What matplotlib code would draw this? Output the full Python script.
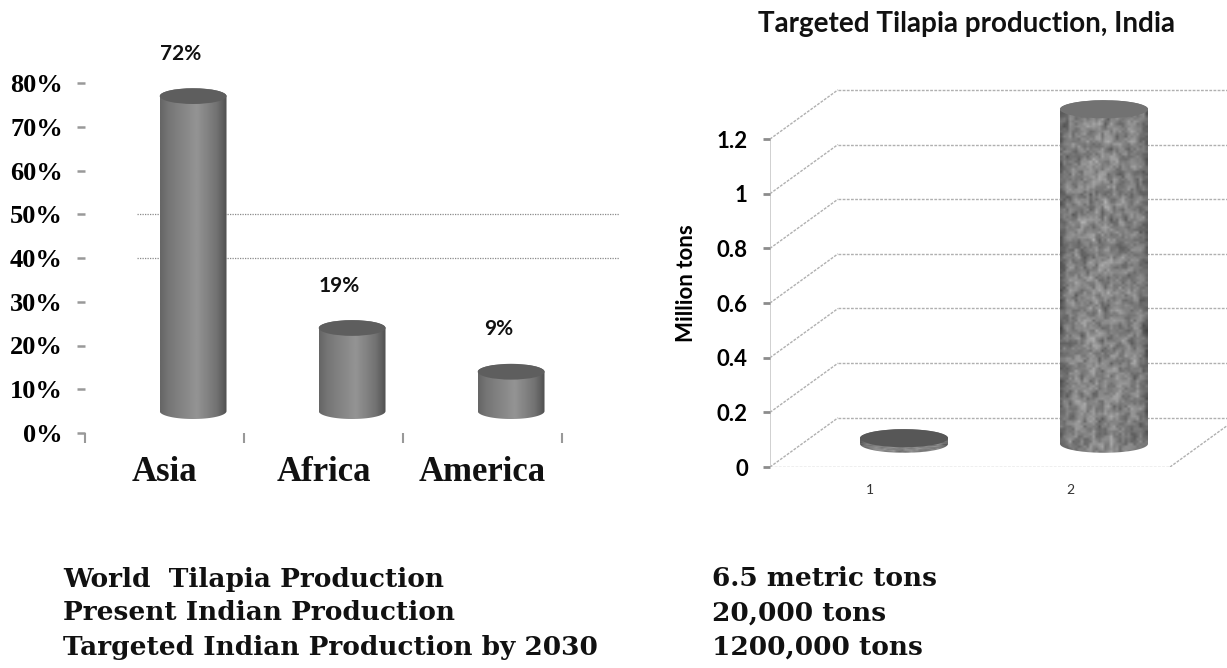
import numpy as np
import matplotlib.pyplot as plt
from matplotlib.patches import Ellipse, Polygon

# ---- data ----
regions = ["Asia", "Africa", "America"]
shares = [72, 19, 9]
share_labels = ["72%", "19%", "9%"]
pct_ticks = [0, 10, 20, 30, 40, 50, 60, 70, 80]
pct_grid = [40, 50]

india_cats = [1, 2]
india_cat_labels = ["1", "2"]
india_mt = [0.02, 1.2]
mt_ticks = [0, 0.2, 0.4, 0.6, 0.8, 1.0, 1.2]
mt_tick_labels = ["0", "0.2", "0.4", "0.6", "0.8", "1", "1.2"]

facts = ["World  Tilapia Production", "Present Indian Production",
         "Targeted Indian Production by 2030"]
fact_values = ["6.5 metric tons", "20,000 tons", "1200,000 tons"]

W, H = 1227, 668
fig = plt.figure(figsize=(W / 100, H / 100), dpi=100)
fig.patch.set_facecolor("white")


def box(x0, y0, x1, y1):
    # pixel box (origin top-left) -> figure fraction
    return [x0 / W, 1 - y1 / H, (x1 - x0) / W, (y1 - y0) / H]


def cylinder(ax, cx, y0, y1, hw, eh, img, cmap, top_color, z=3):
    t1 = np.linspace(np.pi, 2 * np.pi, 60)
    t2 = np.linspace(0, np.pi, 60)
    xs = np.r_[cx + hw * np.cos(t1), cx + hw * np.cos(t2)]
    ys = np.r_[y0 + eh * np.sin(t1), y1 + eh * np.sin(t2)]
    body = Polygon(np.c_[xs, ys], closed=True, fc="none", ec="none")
    ax.add_patch(body)
    im = ax.imshow(img, extent=[cx - hw, cx + hw, y0 - eh, y1 + eh],
                   aspect="auto", cmap=cmap, vmin=0, vmax=1,
                   interpolation="bilinear", zorder=z, origin="lower")
    im.set_clip_path(body)
    ax.add_patch(Ellipse((cx, y1), 2 * hw, 2 * eh, fc=top_color,
                         ec="none", zorder=z + 1))


# ---- left chart: world share ----
ax = fig.add_axes(box(85, 83, 85 + 3.5 * 159, 433))
ax.patch.set_visible(False)
for s in ax.spines.values():
    s.set_visible(False)

u = np.linspace(0, 1, 64)
grad = np.interp(u, [0, 0.12, 0.55, 0.85, 1], [0.40, 0.46, 0.58, 0.45, 0.32])[None, :]
dx_l, dy_l = 0.18, 5.0
for i, v in enumerate(shares):
    cylinder(ax, i + dx_l, dy_l, v + dy_l, 0.21, 1.8, grad, "gray", "#5e5e5e")
    ax.text(i + 0.1, v + 14.7, share_labels[i], ha="center", va="center",
            fontsize=15, fontweight="bold", family="Lato", color="#111")
    ax.text(i, -9, regions[i], ha="center", va="center", fontsize=25,
            fontweight="bold", family="Liberation Serif", color="#111")

for g in pct_grid:
    ax.plot([-0.17, 2.86], [g, g], color="#8a8a8a", lw=0.9,
            ls=(0, (1, 1)), zorder=1)

ax.set_yticks(pct_ticks)
ax.set_yticklabels([f"{t}%" for t in pct_ticks], family="Liberation Serif",
                   fontsize=19, fontweight="bold")
ax.set_xticks([-0.5, 0.5, 1.5, 2.5])
ax.set_xticklabels([])
ax.tick_params(axis="y", length=6, width=1.8, color="#999999", pad=10)
ax.tick_params(axis="x", length=7, width=1.5, color="#999999")
ax.set_xlim(-0.5, 3.0)
ax.set_ylim(0, 80)

# ---- right chart: India targets ----
ax2 = fig.add_axes(box(770, 467 - 1.4 * 273.3, 1227, 467))
ax2.patch.set_visible(False)
for s in ax2.spines.values():
    s.set_visible(False)

dx, dy = 0.34, 0.18
xmax = 0.5 + 457 / 200
grid_kw = dict(color="#b0b0b0", lw=1.0, ls=(0, (2, 1)), zorder=1)
for t in mt_ticks:
    ax2.plot([0.5, 0.5 + dx], [t, t + dy], **grid_kw)
    ax2.plot([0.5 + dx, xmax], [t + dy, t + dy], **grid_kw)
ax2.plot([0.5, 2.5], [0, 0], **grid_kw)
ax2.plot([2.5, 2.5 + dx], [0, dy], **grid_kw)
ax2.plot([0.5, 0.5], [0, mt_ticks[-1]], color="#c8c8c8", lw=1.2, zorder=1)

# mottled texture (deterministic hash pattern, only for the fill look)
r, c = np.mgrid[0:140, 0:30]
h = np.sin(r * 12.9898 + c * 78.233) * 43758.5453
n = h - np.floor(h)
n = (n + np.roll(n, 1, 0) + np.roll(n, 1, 1) + np.roll(n, -1, 0)) / 4
edge = np.interp(np.linspace(0, 1, 30), [0, 0.1, 0.5, 0.9, 1], [0.8, 1, 1.05, 1, 0.8])
tex = np.clip((0.30 + 0.40 * n) * edge[None, :], 0, 1)

for k, v in zip(india_cats, india_mt):
    cylinder(ax2, k + 0.17, 0.085, v * 1.02 + 0.085, 0.22, 0.033, tex, "gray",
             "#727272" if v > 0.1 else "#575757")

ax2.set_yticks(mt_ticks)
ax2.set_yticklabels(mt_tick_labels, family="Lato", fontsize=16,
                    fontweight="bold")
ax2.set_xticks(india_cats)
ax2.set_xticklabels(india_cat_labels, family="Lato", fontsize=10, color="#333")
ax2.tick_params(axis="y", length=5, width=2, color="#8c8c8c", pad=11)
ax2.tick_params(axis="x", length=0, pad=12)
ax2.set_ylabel("Million tons", family="Lato", fontsize=16, fontweight="bold")
ax2.yaxis.set_label_coords(-0.16, 0.48)
ax2.set_xlim(0.5, xmax)
ax2.set_ylim(0, 1.4)

fig.text(966 / W, 1 - 24 / H, "Targeted Tilapia production, India",
         ha="center", va="center", family="Lato", fontsize=20,
         fontweight="bold", color="#111")

# ---- footer table ----
for j, (a, b) in enumerate(zip(facts, fact_values)):
    y = 1 - (579 + 34 * j) / H
    fig.text(63 / W, y, a, ha="left", va="center", family="DejaVu Serif",
             fontsize=19, fontweight="bold", color="#111")
    fig.text(712 / W, y, b, ha="left", va="center", family="DejaVu Serif",
             fontsize=19, fontweight="bold", color="#111")

fig.savefig("out.png", dpi=100)
